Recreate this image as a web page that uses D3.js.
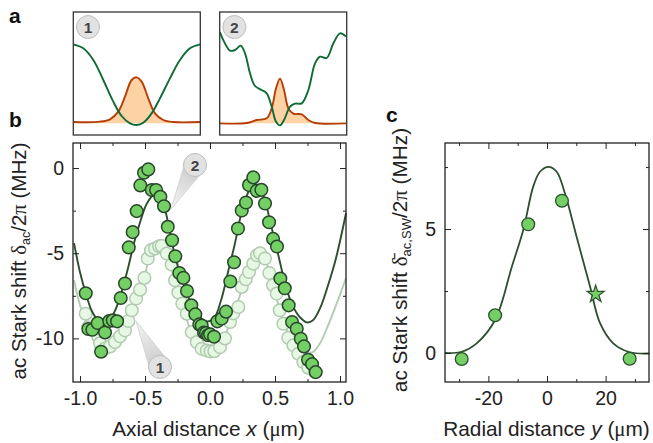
<!DOCTYPE html>
<html>
<head>
<meta charset="utf-8">
<script src="https://cdnjs.cloudflare.com/ajax/libs/d3/7.8.5/d3.min.js"></script>
<style>
html, body { margin: 0; padding: 0; background: #fff; }
text { font-family: "Liberation Sans", Arial, sans-serif; fill: #222; }
.sym { font-family: "Liberation Serif", serif; }
.tick text { font-size: 19.5px; font-family: "Liberation Sans", Arial, sans-serif; fill: #222; }
.tick line { stroke: #222; stroke-width: 1; }
.domain { display: none; }
</style>
</head>
<body>
<svg class="chart" width="653" height="443">
  <defs>
    <linearGradient id="wedge2" gradientUnits="userSpaceOnUse" x1="171" y1="209" x2="195" y2="165">
      <stop offset="0" stop-color="#f4f4f4"/><stop offset="1" stop-color="#c4c4c4"/>
    </linearGradient>
    <linearGradient id="wedge1" gradientUnits="userSpaceOnUse" x1="136" y1="321" x2="160" y2="367">
      <stop offset="0" stop-color="#f4f4f4"/><stop offset="1" stop-color="#c4c4c4"/>
    </linearGradient>
  </defs>
</svg>
<script>
// panel a: potential (green) and wavefunction (orange), arbitrary units
var a1GreenX = [0, 30, 60, 90, 120, 145, 170, 190, 210, 235, 260, 290, 320, 350, 380];
var a1GreenY = [272, 260, 225, 165, 100, 57, 35, 30, 37, 65, 110, 170, 225, 260, 272];
var a1OrangeX = [0, 80, 110, 135, 155, 175, 190, 205, 225, 245, 270, 300, 380];
var a1OrangeY = [39, 40, 47, 70, 115, 165, 173, 160, 110, 65, 45, 39, 39];
var a2GreenX = [1, 13, 31, 46, 63, 76, 91, 106, 126, 141, 156, 169, 181, 193, 211, 226, 246, 266, 286, 301, 321, 341, 361, 379];
var a2GreenY = [308, 280, 253, 255, 268, 245, 185, 147, 135, 125, 85, 40, 29, 45, 85, 94, 95, 135, 215, 235, 231, 275, 305, 295];
var a2OrangeX = [1, 81, 111, 141, 156, 169, 181, 193, 206, 221, 246, 266, 286, 379];
var a2OrangeY = [35, 36, 45, 50, 80, 140, 169, 135, 80, 64, 62, 45, 36, 35];
var aBase = 35;

// panel b: ac Stark shift vs axial distance
var darkX = [-0.956, -0.936, -0.905, -0.864, -0.838, -0.808, -0.775, -0.748, -0.715, -0.687, -0.654, -0.625, -0.595, -0.564, -0.536, -0.508, -0.475, -0.448, -0.415, -0.382, -0.354, -0.325, -0.292, -0.267, -0.236, -0.205, -0.177, -0.144, -0.113, -0.082, -0.064, -0.046, -0.031, -0.015, 0, 0.031, 0.056, 0.09, 0.123, 0.156, 0.185, 0.215, 0.244, 0.277, 0.3, 0.333, 0.359, 0.395, 0.423, 0.454, 0.485, 0.515, 0.541, 0.575, 0.605, 0.631, 0.667, 0.698, 0.723, 0.754, 0.785, 0.813];
var darkY = [-7.35, -9.45, -9.49, -9.1, -10.78, -9.65, -8.98, -8.94, -9, -7.63, -6.78, -4.66, -3.76, -2.53, -1.02, -0.28, -0.08, -1.29, -1.29, -1.69, -2.24, -3.45, -4.24, -5.18, -6.16, -6.45, -7.22, -8.06, -8.59, -9.18, -9.24, -9.66, -9.69, -9.82, -9.76, -9.9, -9, -8.84, -8.43, -6.66, -5.53, -3.55, -2.49, -2.02, -1, -0.55, -1.34, -1.28, -2.08, -3.18, -4.16, -4.61, -6.49, -7.06, -8.06, -9.04, -9.43, -10.02, -10.47, -11.25, -11.51, -11.98];
var lightX = [-0.956, -0.938, -0.902, -0.862, -0.846, -0.808, -0.769, -0.731, -0.692, -0.654, -0.628, -0.602, -0.569, -0.538, -0.505, -0.479, -0.454, -0.423, -0.392, -0.372, -0.333, -0.295, -0.269, -0.244, -0.213, -0.179, -0.141, -0.102, -0.064, -0.025, 0.004, 0.033, 0.077, 0.115, 0.154, 0.179, 0.218, 0.244, 0.275, 0.3, 0.333, 0.362, 0.385, 0.423, 0.456, 0.485, 0.513, 0.536, 0.564, 0.602, 0.641, 0.679, 0.718, 0.756, 0.808];
var lightY = [-8.55, -9.35, -9.53, -9.88, -10.29, -10.59, -10.47, -10.22, -9.88, -9.53, -8.98, -8.35, -7.66, -7.14, -6.45, -5.31, -4.82, -4.72, -4.59, -4.57, -5.02, -5.66, -6.59, -7.31, -7.96, -8.55, -9.63, -10.22, -10.61, -10.71, -10.76, -10.75, -10.51, -10, -9.04, -8.53, -8.16, -6.98, -6.53, -6.1, -5.61, -5.12, -5, -5.31, -6.16, -6.88, -7.37, -8.35, -9.14, -9.96, -10.41, -10.9, -11.39, -11.72, -11.98];
var fitDarkX = [-1.046, -1, -0.956, -0.908, -0.862, -0.815, -0.769, -0.723, -0.677, -0.631, -0.585, -0.538, -0.492, -0.446, -0.408, -0.369, -0.323, -0.269, -0.208, -0.146, -0.085, -0.023, 0.031, 0.085, 0.138, 0.192, 0.238, 0.285, 0.323, 0.369, 0.415, 0.469, 0.531, 0.585, 0.638, 0.692, 0.746, 0.792, 0.846, 0.908, 0.969, 1.046];
var fitDarkY = [-4.41, -6.12, -7.35, -8.41, -8.91, -9.03, -8.88, -8.24, -7.18, -5.88, -4.41, -3.18, -2.18, -1.65, -1.53, -1.88, -3.18, -5.18, -6.71, -7.94, -8.71, -9, -8.82, -7.76, -6.12, -4.41, -2.76, -1.59, -1.06, -1.06, -1.71, -3.35, -5.29, -7, -8.12, -8.76, -9.06, -8.94, -8.24, -6.88, -5.29, -2.65];
var fitLightX = [-1.046, -1, -0.954, -0.908, -0.862, -0.815, -0.769, -0.723, -0.677, -0.631, -0.585, -0.538, -0.492, -0.462, -0.423, -0.385, -0.346, -0.308, -0.262, -0.208, -0.154, -0.1, -0.046, 0, 0.046, 0.092, 0.138, 0.185, 0.231, 0.277, 0.323, 0.369, 0.408, 0.446, 0.492, 0.538, 0.592, 0.654, 0.715, 0.785, 0.846, 0.908, 0.969, 1.046];
var fitLightY = [-6.59, -8.06, -9.06, -9.76, -10.35, -10.71, -10.76, -10.41, -9.88, -9.06, -7.94, -7.06, -6, -5.12, -4.76, -4.65, -4.94, -5.59, -7, -8.24, -9.41, -10.24, -10.71, -10.82, -10.71, -10.29, -9.41, -8.41, -7.47, -6.41, -5.53, -5.06, -5.06, -5.82, -7.06, -8.35, -9.53, -10.29, -10.71, -10.82, -10.29, -9.24, -8.06, -6.47];

// panel c: ac Stark shift vs radial distance
var radialX = [-29.1, -17.7, -6.4, 5.1, 28.2];
var radialY = [-0.24, 1.52, 5.19, 6.14, -0.23];
var starX = [16.6];
var starY = [2.37];
var fitRadialX = [-34.8, -29.1, -24, -17.7, -12, -8.1, -4.7, -2.4, 0.5, 3.3, 6.1, 10.1, 14.7, 18.1, 22.6, 28.3, 34.9];
var fitRadialY = [0, 0.05, 0.39, 1.33, 3.48, 4.96, 6.71, 7.31, 7.51, 7.31, 6.44, 4.69, 2.67, 1.2, 0.39, 0.03, -0.02];

var bTicks = [-1, -0.5, 0, 0.5, 1];
var bMinorX = [-0.75, -0.25, 0.25, 0.75];
var bTicksY = [0, -5, -10];
var bMinorY = [-2.5, -7.5];
var cTicks = [-20, 0, 20];
var cMinorX = [-30, -10, 10, 30];
var cTicksY = [0, 5];
var cMinorY = [2.5, 7.5];

var svg = d3.select(".chart");
var frameColor = "#222";

function zip(xs, ys) {
    return xs.map(function (x, i) { return [x, ys[i]]; });
}

// small profile panel at the top
function profile(left, greenX, greenY, orangeX, orangeY, num) {
    var x = d3.scaleLinear().domain([0, 381]).range([left, left + 127]);
    var y = d3.scaleLinear().domain([0, 369]).range([135, 12]);
    var line = d3.line().curve(d3.curveCatmullRom.alpha(0.5))
        .x(function (d) { return x(d[0]); }).y(function (d) { return y(d[1]); });
    var area = d3.area().curve(d3.curveCatmullRom.alpha(0.5))
        .x(function (d) { return x(d[0]); }).y0(y(aBase)).y1(function (d) { return y(d[1]); });
    var g = svg.append("g");
    g.append("path").attr("d", area(zip(orangeX, orangeY))).attr("fill", "#fdd2a4");
    g.append("path").attr("d", line(zip(orangeX, orangeY)))
        .attr("fill", "none").attr("stroke", "#b53d06").attr("stroke-width", 1.9);
    g.append("path").attr("d", line(zip(greenX, greenY)))
        .attr("fill", "none").attr("stroke", "#0f6b35").attr("stroke-width", 1.9);
    g.append("rect").attr("x", left).attr("y", 12).attr("width", 127).attr("height", 123)
        .attr("fill", "none").attr("stroke", "#333").attr("stroke-width", 1.3);
    badge(left + 14.7, 27, num);
}

function badge(cx, cy, num) {
    svg.append("circle").attr("cx", cx).attr("cy", cy).attr("r", 11.5)
        .attr("fill", "#e2e2e2").attr("stroke", "#bdbdbd").attr("stroke-width", 1);
    svg.append("text").attr("x", cx).attr("y", cy + 5.5).attr("text-anchor", "middle")
        .attr("font-size", 15.5).attr("font-weight", "bold").style("fill", "#444").text(num);
}

function wedge(cx, cy, tipX, tipY, id) {
    var dx = tipX - cx, dy = tipY - cy, len = Math.sqrt(dx * dx + dy * dy);
    var nx = -dy / len * 10.5, ny = dx / len * 10.5;
    svg.append("path")
        .attr("d", "M" + tipX + "," + tipY + "L" + (cx + nx) + "," + (cy + ny) + "L" + (cx - nx) + "," + (cy - ny) + "Z")
        .attr("fill", "url(#" + id + ")").attr("fill-opacity", 0.9).attr("stroke", "#cfcfcf").attr("stroke-width", 0.8);
}

function frame(g, x, y, major, minor, majorY, minorY, fmtX, fmtY) {
    var w = x.range()[1] - x.range()[0], h = y.range()[0] - y.range()[1];
    var tx = x.range()[0], ty = y.range()[1];
    function ax(axis, dx, dy) {
        return g.append("g").attr("transform", "translate(" + dx + "," + dy + ")").call(axis);
    }
    ax(d3.axisBottom(x).tickValues(major).tickSize(-6).tickPadding(9).tickFormat(fmtX), 0, ty + h);
    ax(d3.axisBottom(x).tickValues(minor).tickSize(-3).tickFormat(""), 0, ty + h);
    ax(d3.axisTop(x).tickValues(major).tickSize(-6).tickFormat(""), 0, ty);
    ax(d3.axisTop(x).tickValues(minor).tickSize(-3).tickFormat(""), 0, ty);
    ax(d3.axisLeft(y).tickValues(majorY).tickSize(-6).tickPadding(9).tickFormat(fmtY), tx, 0);
    ax(d3.axisLeft(y).tickValues(minorY).tickSize(-3).tickFormat(""), tx, 0);
    ax(d3.axisRight(y).tickValues(majorY).tickSize(-6).tickFormat(""), tx + w, 0);
    ax(d3.axisRight(y).tickValues(minorY).tickSize(-3).tickFormat(""), tx + w, 0);
    g.append("rect").attr("x", tx).attr("y", ty).attr("width", w).attr("height", h)
        .attr("fill", "none").attr("stroke", frameColor).attr("stroke-width", 1.3);
}

function hyphen(fmt) {
    return function (d) { return fmt(d).replace("\u2212", "-"); };
}

profile(73.3, a1GreenX, a1GreenY, a1OrangeX, a1OrangeY, "1");
profile(219.7, a2GreenX, a2GreenY, a2OrangeX, a2OrangeY, "2");

// panel b
var xB = d3.scaleLinear().domain([-1.054, 1.046]).range([73, 346]);
var yB = d3.scaleLinear().domain([-12.56, 1.47]).range([382, 143]);
var lineB = d3.line().curve(d3.curveCatmullRom.alpha(0.5))
    .x(function (d) { return xB(d[0]); }).y(function (d) { return yB(d[1]); });
var gB = svg.append("g");

gB.append("path").attr("d", lineB(zip(fitLightX, fitLightY)))
    .attr("fill", "none").attr("stroke", "#b2cbb0").attr("stroke-width", 1.9);
gB.selectAll(".light").data(zip(lightX, lightY)).enter().append("circle")
    .attr("cx", function (d) { return xB(d[0]); })
    .attr("cy", function (d) { return yB(d[1]); })
    .attr("r", 6.3)
    .attr("fill", "#e7f8e4").attr("stroke", "#b2cbb0").attr("stroke-width", 1.5);
gB.append("path").attr("d", lineB(zip(fitDarkX, fitDarkY)))
    .attr("fill", "none").attr("stroke", "#2c4f2e").attr("stroke-width", 1.9);
gB.selectAll(".dark").data(zip(darkX, darkY)).enter().append("circle")
    .attr("cx", function (d) { return xB(d[0]); })
    .attr("cy", function (d) { return yB(d[1]); })
    .attr("r", 6.3)
    .attr("fill", "#74cf65").attr("stroke", "#28462a").attr("stroke-width", 1.5);

frame(gB, xB, yB, bTicks, bMinorX, bTicksY, bMinorY, hyphen(d3.format(".1f")), hyphen(d3.format("d")));

wedge(195, 165, 171, 209, "wedge2");
badge(195, 165, "2");
wedge(160, 367, 136, 321, "wedge1");
badge(160, 367, "1");

// panel c
var xC = d3.scaleLinear().domain([-34.8, 34.8]).range([445, 649]);
var yC = d3.scaleLinear().domain([-1.17, 8.47]).range([382, 143]);
var lineC = d3.line().curve(d3.curveCatmullRom.alpha(0.5))
    .x(function (d) { return xC(d[0]); }).y(function (d) { return yC(d[1]); });
var gC = svg.append("g");

gC.append("path").attr("d", lineC(zip(fitRadialX, fitRadialY)))
    .attr("fill", "none").attr("stroke", "#2c4f2e").attr("stroke-width", 1.8);
gC.selectAll(".pt").data(zip(radialX, radialY)).enter().append("circle")
    .attr("cx", function (d) { return xC(d[0]); })
    .attr("cy", function (d) { return yC(d[1]); })
    .attr("r", 6.4)
    .attr("fill", "#74cf65").attr("stroke", "#2c4f2e").attr("stroke-width", 1.3);
gC.selectAll(".star").data(zip(starX, starY)).enter().append("path")
    .attr("d", d3.symbol().type(d3.symbolStar).size(90))
    .attr("transform", function (d) { return "translate(" + xC(d[0]) + "," + yC(d[1]) + ")"; })
    .attr("fill", "#74cf65").attr("stroke", "#2c4f2e").attr("stroke-width", 1.2);

frame(gC, xC, yC, cTicks, cMinorX, cTicksY, cMinorY, hyphen(d3.format("d")), hyphen(d3.format("d")));

// panel letters
[["a", 9, 23], ["b", 9, 127], ["c", 386, 122]].forEach(function (p) {
    svg.append("text").attr("x", p[1]).attr("y", p[2])
        .attr("font-size", 21).attr("font-weight", "bold").style("fill", "#111").text(p[0]);
});

// axis titles
var titleB = svg.append("text").attr("x", 208.5).attr("y", 436).attr("text-anchor", "middle").attr("font-size", 20.8);
titleB.append("tspan").text("Axial distance ");
titleB.append("tspan").attr("font-style", "italic").text("x");
titleB.append("tspan").text(" (");
titleB.append("tspan").attr("class", "sym").text("\u03bc");
titleB.append("tspan").text("m)");

var titleC = svg.append("text").attr("x", 546.5).attr("y", 436).attr("text-anchor", "middle").attr("font-size", 20.8);
titleC.append("tspan").text("Radial distance ");
titleC.append("tspan").attr("font-style", "italic").text("y");
titleC.append("tspan").text(" (");
titleC.append("tspan").attr("class", "sym").text("\u03bc");
titleC.append("tspan").text("m)");

var yTitleB = svg.append("text").attr("transform", "translate(26,261) rotate(-90)")
    .attr("text-anchor", "middle").attr("font-size", 20.6);
yTitleB.append("tspan").text("ac Stark shift ");
yTitleB.append("tspan").attr("class", "sym").text("\u03b4");
yTitleB.append("tspan").attr("font-size", 12.5).attr("dy", 4).text("ac");
yTitleB.append("tspan").attr("dy", -4).text("/2");
yTitleB.append("tspan").attr("class", "sym").text("\u03c0");
yTitleB.append("tspan").text(" (MHz)");

var yTitleC = svg.append("text").attr("transform", "translate(407,260) rotate(-90)")
    .attr("text-anchor", "middle").attr("font-size", 20.8);
yTitleC.append("tspan").text("ac Stark shift ");
yTitleC.append("tspan").attr("class", "sym").text("\u03b4\u0304");
yTitleC.append("tspan").attr("font-size", 13).attr("dy", 4).text("ac,SW");
yTitleC.append("tspan").attr("dy", -4).text("/2");
yTitleC.append("tspan").attr("class", "sym").text("\u03c0");
yTitleC.append("tspan").text(" (MHz)");
</script>
</body>
</html>
